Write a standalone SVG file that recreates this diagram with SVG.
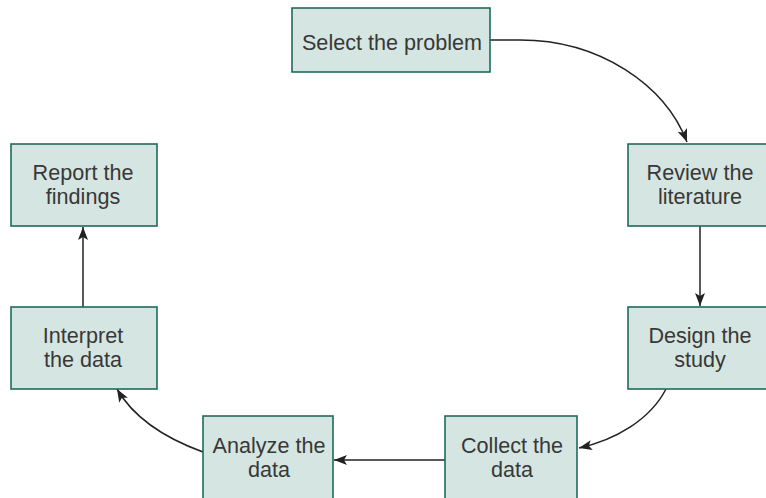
<svg xmlns="http://www.w3.org/2000/svg" width="766" height="498" viewBox="0 0 766 498">
<style>
.box{fill:#d5e5e1;stroke:#1f6b5b;stroke-width:1.6}
.t{font-family:"Liberation Sans",Arial,sans-serif;font-size:21.6px;fill:#383838;text-anchor:middle}
.c{fill:none;stroke:#222;stroke-width:1.5}
</style>
<defs>
<marker id="ah" markerUnits="userSpaceOnUse" markerWidth="14" markerHeight="12" refX="13" refY="5" orient="auto">
<path d="M0,0 L13,5 L0,10 L3,5 z" fill="#222"/>
</marker>
</defs>
<g id="connectors">
<path class="c" d="M490,40 L520,40 C600,40 665,85 687,142" marker-end="url(#ah)"/>
<path class="c" d="M700,226 L700,306" marker-end="url(#ah)"/>
<path class="c" d="M666,389 C650,420 615,440 579,448" marker-end="url(#ah)"/>
<path class="c" d="M445,460 L334,460" marker-end="url(#ah)"/>
<path class="c" d="M203,452 C170,440 135,420 117,389" marker-end="url(#ah)"/>
<path class="c" d="M83,307 L83,227" marker-end="url(#ah)"/>
</g>
<g id="select">
<rect class="box" x="292" y="8" width="198" height="64"/>
<text class="t" x="392" y="50">Select the problem</text>
</g>
<g id="review">
<rect class="box" x="628" y="144" width="146" height="82"/>
<text class="t" x="700" y="180">Review the</text>
<text class="t" x="700" y="204">literature</text>
</g>
<g id="design">
<rect class="box" x="628" y="307" width="146" height="82"/>
<text class="t" x="700" y="343">Design the</text>
<text class="t" x="700" y="367">study</text>
</g>
<g id="collect">
<rect class="box" x="445" y="416" width="132" height="84"/>
<text class="t" x="512" y="453">Collect the</text>
<text class="t" x="512" y="477">data</text>
</g>
<g id="analyze">
<rect class="box" x="203" y="416" width="130" height="84"/>
<text class="t" x="269" y="453">Analyze the</text>
<text class="t" x="269" y="477">data</text>
</g>
<g id="interpret">
<rect class="box" x="11" y="307" width="146" height="82"/>
<text class="t" x="83" y="343">Interpret</text>
<text class="t" x="83" y="367">the data</text>
</g>
<g id="report">
<rect class="box" x="11" y="144" width="146" height="82"/>
<text class="t" x="83" y="180">Report the</text>
<text class="t" x="83" y="204">findings</text>
</g>
</svg>
